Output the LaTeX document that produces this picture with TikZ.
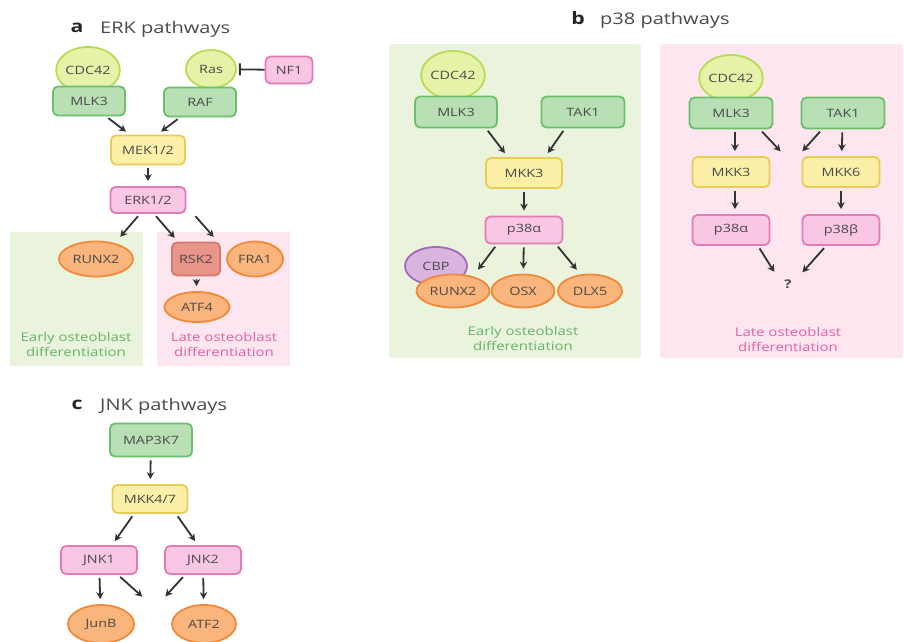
\documentclass[tikz,border=0pt]{standalone}
\usepackage{fontspec}
\setmainfont{Open Sans}[FakeStretch=1.25]
\usetikzlibrary{arrows.meta,shapes.geometric}
\definecolor{gfill}{HTML}{B9E0B4}
\definecolor{gline}{HTML}{6CBF6C}
\definecolor{lgfill}{HTML}{E6F2A8}
\definecolor{lgline}{HTML}{B8DB55}
\definecolor{yfill}{HTML}{FCF0A8}
\definecolor{yline}{HTML}{E8CC55}
\definecolor{pfill}{HTML}{F9C6E3}
\definecolor{pline}{HTML}{E57AB8}
\definecolor{ofill}{HTML}{F9B57C}
\definecolor{oline}{HTML}{F08A3A}
\definecolor{rfill}{HTML}{E9958A}
\definecolor{rline}{HTML}{D47A6C}
\definecolor{cfill}{HTML}{D9B4E0}
\definecolor{cline}{HTML}{A56AB5}
\definecolor{gpanel}{HTML}{EAF4DC}
\definecolor{ppanel}{HTML}{FDE6EF}
\definecolor{gtext}{HTML}{66B36A}
\definecolor{ptext}{HTML}{E95FA3}
\definecolor{txt}{HTML}{4A4A4A}
\definecolor{arr}{HTML}{333333}
\tikzset{
  mol/.style={draw, line width=1.8pt, rounded corners=5pt, minimum width=76pt,
    minimum height=29pt, inner sep=1pt, text=txt, font=\fontsize{11.5}{13}\selectfont},
  gbox/.style={mol, draw=gline, fill=gfill},
  ybox/.style={mol, draw=yline, fill=yfill},
  pbox/.style={mol, draw=pline, fill=pfill},
  rbox/.style={mol, draw=rline, fill=rfill},
  ovl/.style={ellipse, draw, line width=1.8pt, inner sep=0pt, text=txt,
    font=\fontsize{11.5}{13}\selectfont},
  onode/.style={ovl, draw=oline, fill=ofill},
  lgcirc/.style={ovl, draw=lgline, fill=lgfill},
  cbpcirc/.style={ovl, draw=cline, fill=cfill},
  act/.style={-{Stealth[length=7pt,width=7.5pt]}, line width=1.8pt, draw=arr,
    shorten <=3pt, shorten >=5pt},
  inh/.style={-{Bar[width=12pt,line width=2pt]}, line width=1.8pt, draw=arr, shorten >=2pt},
  title/.style={anchor=west, inner sep=0pt, text=txt, font=\fontsize{16}{18}\selectfont},
  letter/.style={text=black!85, font=\fontsize{17}{18}\selectfont\bfseries},
  note/.style={align=center, font=\fontsize{12}{15}\selectfont}
}
\begin{document}
\begin{tikzpicture}[x=1pt,y=-1pt]
  \useasboundingbox (0,0) rectangle (904,641);
  % panels
  \fill[gpanel] (10,232) rectangle (143,366);
  \fill[ppanel] (157,232) rectangle (290,366);
  \fill[gpanel, rounded corners=3pt] (389,44) rectangle (641,358);
  \fill[ppanel, rounded corners=3pt] (660,44) rectangle (903,358);

  % a: ERK
  \node[letter] (la) at (77,28) {a};
  \node[title] (ta) at (100,29) {ERK pathways};
  \node[lgcirc, minimum width=62pt, minimum height=46pt] (cdca) at (88,70) {CDC42};
  \node[lgcirc, minimum width=50pt, minimum height=38pt] (rasa) at (211,69) {Ras};
  \node[pbox, minimum width=47pt, minimum height=27pt] (nfa) at (289,70) {NF1};
  \node[gbox, minimum width=72pt] (mlka) at (89,101) {MLK3};
  \node[gbox, minimum width=72pt] (rafa) at (200,102) {RAF};
  \node[ybox, minimum width=74pt] (meka) at (148,150) {MEK1/2};
  \node[pbox, minimum width=75pt, minimum height=26pt] (erka) at (148,200) {ERK1/2};
  \node[onode, minimum width=74pt, minimum height=35pt] (runxa) at (96,259) {RUNX2};
  \node[rbox, minimum width=48pt, minimum height=33pt] (rska) at (196,259) {RSK2};
  \node[onode, minimum width=56pt, minimum height=35pt] (fraa) at (255,259) {FRA1};
  \node[onode, minimum width=65pt, minimum height=30pt] (atfa) at (197,307) {ATF4};
  \node[note, text=gtext] (ea) at (76,344) {Early osteoblast\\differentiation};
  \node[note, text=ptext] (lta) at (224,344) {Late osteoblast\\differentiation};
  \draw[inh] (nfa) -- (rasa);
  \draw[act] ([xshift=17pt]mlka.south) -- ([xshift=-18pt]meka.north);
  \draw[act] ([xshift=-20pt]rafa.south) -- ([xshift=9pt]meka.north);
  \draw[act] (meka) -- (erka);
  \draw[act] ([xshift=-8pt]erka.south) -- ([xshift=21pt]runxa.north);
  \draw[act] ([xshift=6pt]erka.south) -- ([xshift=-18pt]rska.north);
  \draw[act] ([xshift=7pt]erka.south east) -- ([xshift=-38pt]fraa.north);
  \draw[act] (rska) -- (atfa);

  % b: p38
  \node[letter] (lb) at (578,18) {b};
  \node[title] (tb) at (600,20) {p38 pathways};
  \node[lgcirc, minimum width=57pt, minimum height=48pt] (cdcb) at (453,75) {CDC42};
  \node[gbox, minimum width=82pt, minimum height=31pt] (mlkb) at (456,112) {MLK3};
  \node[gbox, minimum width=83pt, minimum height=31pt] (takb) at (583,112) {TAK1};
  \node[ybox, minimum height=30pt] (mkkb) at (524,173) {MKK3};
  \node[pbox, minimum width=77pt, minimum height=27pt] (p38b) at (524,230) {p38α};
  \node[cbpcirc, minimum width=62pt, minimum height=38pt] (cbpb) at (436,266) {CBP};
  \node[onode, minimum width=73pt, minimum height=33pt] (runxb) at (453,291) {RUNX2};
  \node[onode, minimum width=63pt, minimum height=33pt] (osxb) at (523,291) {OSX};
  \node[onode, minimum width=64pt, minimum height=33pt] (dlxb) at (590,291) {DLX5};
  \node[note, text=gtext] (eb) at (523,338) {Early osteoblast\\differentiation};
  \draw[act] ([xshift=30pt]mlkb.south) -- ([xshift=-16pt]mkkb.north);
  \draw[act] ([xshift=-18pt]takb.south) -- ([xshift=21pt]mkkb.north);
  \draw[act] (mkkb) -- (p38b);
  \draw[act] ([xshift=-27pt]p38b.south) -- ([xshift=22pt]runxb.north);
  \draw[act] (p38b) -- (osxb);
  \draw[act] ([xshift=32pt]p38b.south) -- ([xshift=-10pt]dlxb.north);

  \node[lgcirc, minimum width=60pt, minimum height=46pt] (cdcc) at (731,78) {CDC42};
  \node[gbox, minimum width=83pt, minimum height=31pt] (mlkc) at (731,113) {MLK3};
  \node[gbox, minimum width=83pt, minimum height=31pt] (takc) at (843,113) {TAK1};
  \node[ybox, minimum width=77pt, minimum height=30pt] (mkkc) at (731,172) {MKK3};
  \node[ybox, minimum width=77pt, minimum height=30pt] (mkkd) at (841,172) {MKK6};
  \node[pbox, minimum width=77pt, minimum height=30pt] (pac) at (731,230) {p38α};
  \node[pbox, minimum width=77pt, minimum height=30pt] (pbc) at (841,230) {p38β};
  \node[text=txt, font=\fontsize{12}{13}\selectfont\bfseries] (qc) at (788,284) {?};
  \coordinate (gapb) at (791,155);
  \node[note, text=ptext] (lc) at (788,339) {Late osteoblast\\differentiation};
  \draw[act] ([xshift=4pt]mlkc.south) -- ([xshift=4pt]mkkc.north);
  \draw[act] ([xshift=29pt]mlkc.south) -- ([xshift=-7pt]gapb);
  \draw[act] ([xshift=-21pt]takc.south) -- ([xshift=8pt]gapb);
  \draw[act] (takc) -- (mkkd);
  \draw[act] ([xshift=4pt]mkkc.south) -- ([xshift=4pt]pac.north);
  \draw[act] (mkkd) -- (pbc);
  \draw[act] ([xshift=27pt]pac.south) -- ([xshift=-4pt]qc.north west);
  \draw[act] ([xshift=-15pt]pbc.south) -- ([xshift=4pt]qc.north east);

  % c: JNK
  \node[letter] (lcc) at (77,405) {c};
  \node[title] (tc) at (100,406) {JNK pathways};
  \node[gbox, minimum width=82pt, minimum height=33pt] (mapc) at (151,440) {MAP3K7};
  \node[ybox, minimum width=75pt, minimum height=28pt] (mkkj) at (150,499) {MKK4/7};
  \node[pbox, minimum height=28pt] (jnka) at (99,560) {JNK1};
  \node[pbox, minimum height=28pt] (jnkb) at (203,560) {JNK2};
  \node[onode, minimum width=66pt, minimum height=38pt] (junb) at (101,624) {JunB};
  \node[onode, minimum width=64pt, minimum height=38pt] (atfc) at (204,624) {ATF2};
  \coordinate (gapc) at (154,600);
  \draw[act] (mapc) -- (mkkj);
  \draw[act] ([xshift=-16pt]mkkj.south) -- ([xshift=13pt]jnka.north);
  \draw[act] ([xshift=26pt]mkkj.south) -- ([xshift=-5pt]jnkb.north);
  \draw[act] (jnka) -- (junb);
  \draw[act] ([xshift=19pt]jnka.south) -- ([xshift=-8pt]gapc);
  \draw[act] ([xshift=-18pt]jnkb.south) -- ([xshift=8pt]gapc);
  \draw[act] (jnkb) -- (atfc);
\end{tikzpicture}
\end{document}
